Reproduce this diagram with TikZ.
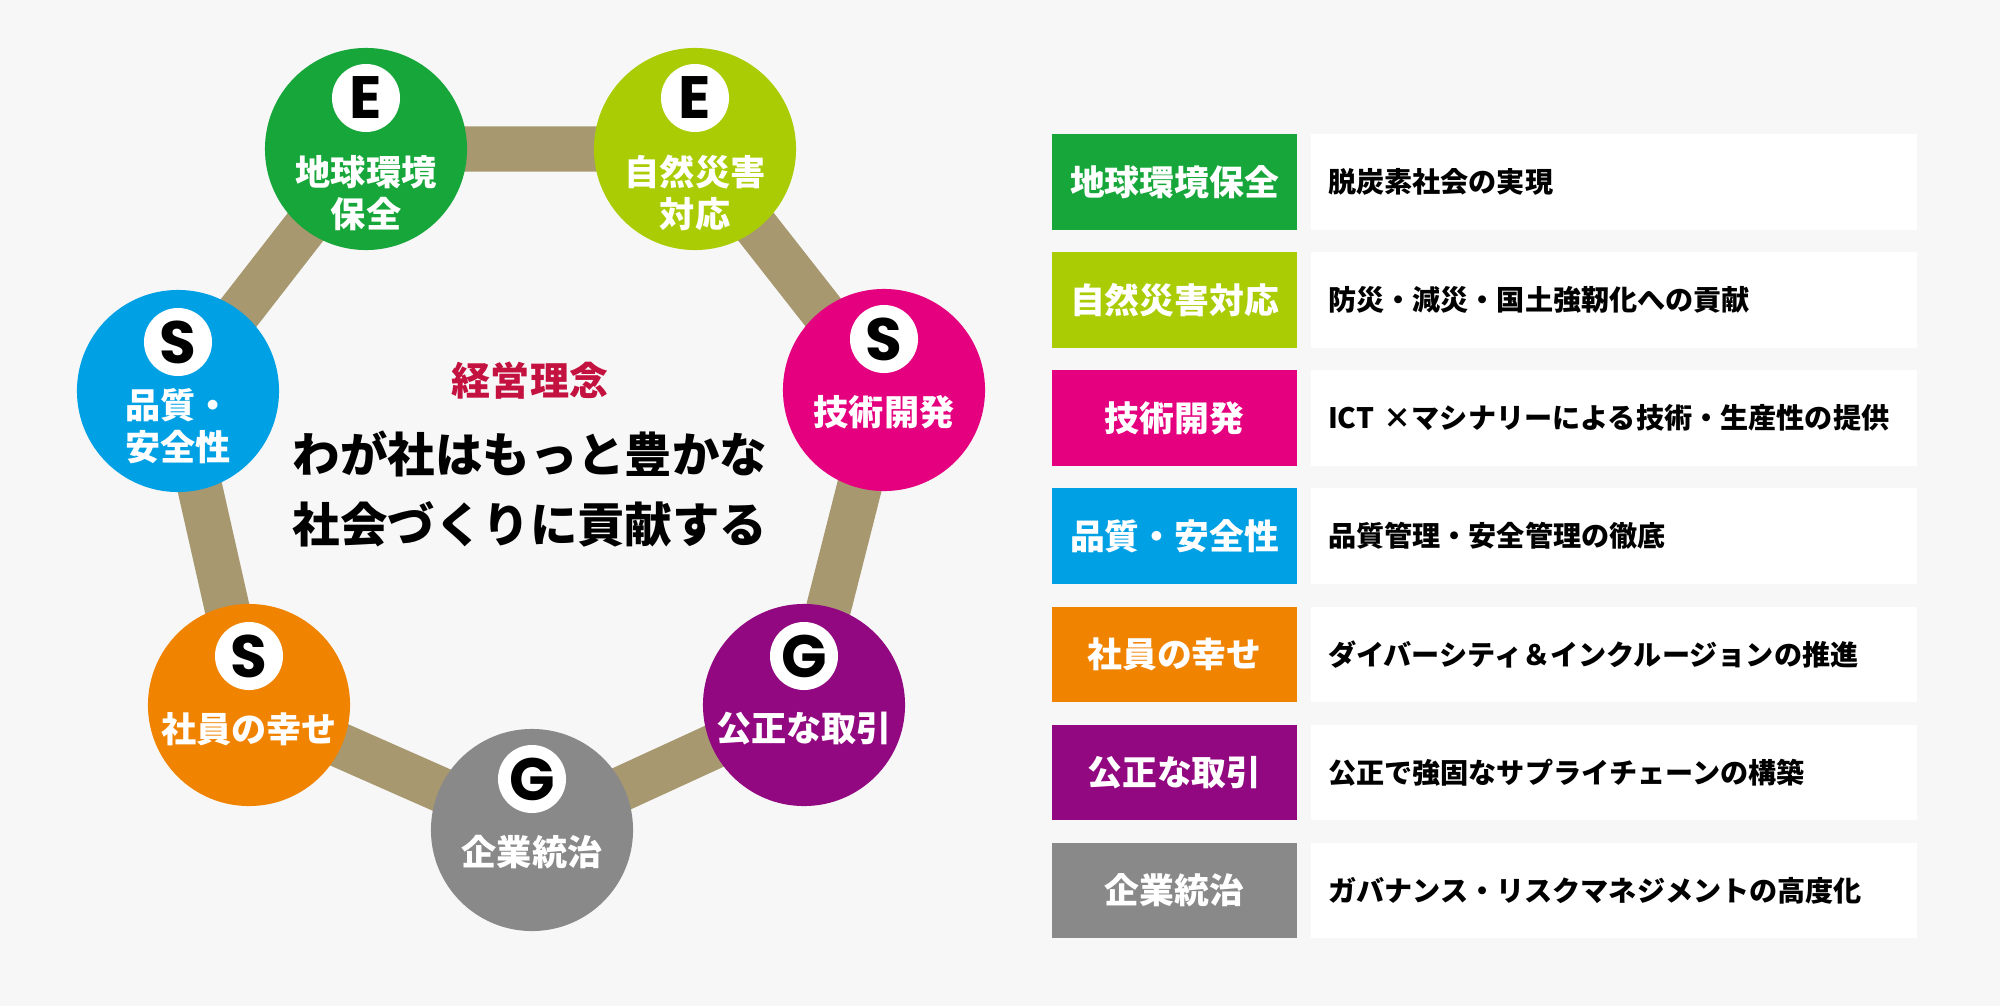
\documentclass[tikz,border=0pt]{standalone}
\usepackage{fontspec}
\setmainfont{Noto Sans CJK JP}
\newfontfamily\heavyfont{Noto Sans CJK JP Black}
\newfontfamily\badgefont{Poppins}
\usepackage{xcolor}
\usepackage{tikz}
\usetikzlibrary{positioning,calc,backgrounds}

\definecolor{bgGray}{RGB}{247,247,247}
\definecolor{barTan}{RGB}{168,152,112}
\definecolor{envGreen}{RGB}{22,166,58}
\definecolor{envLime}{RGB}{170,204,4}
\definecolor{socMagenta}{RGB}{228,0,127}
\definecolor{socBlue}{RGB}{0,160,228}
\definecolor{socOrange}{RGB}{240,131,0}
\definecolor{govPurple}{RGB}{145,8,128}
\definecolor{govGray}{RGB}{137,137,137}
\definecolor{mottoRed}{RGB}{196,18,64}

\begin{document}
\begin{tikzpicture}[x=0.01cm,y=-0.01cm,
  esg/.style={circle,minimum size=2.02cm,inner sep=0pt},
  badge/.style={circle,fill=white,minimum size=0.68cm,inner sep=0pt,
                font=\badgefont\bfseries\fontsize{17}{17}\selectfont},
  esgtext/.style={text=white,align=center,font=\heavyfont\fontsize{10}{12}\selectfont},
  ringbar/.style={line width=0.45cm,color=barTan},
  tagbox/.style={rectangle,minimum width=2.45cm,minimum height=0.955cm,inner sep=0pt,
              outer sep=0pt,text=white,font=\heavyfont\fontsize{9.9}{12}\selectfont},
  notebox/.style={rectangle,fill=white,minimum height=0.955cm,text width=5.72cm,
               inner xsep=0.17cm,inner ysep=0pt,outer sep=0pt,align=left,
               font=\bfseries\fontsize{8}{10}\selectfont}]
\useasboundingbox (0,0) rectangle (2000,1006);

% ring of ESG themes
\node[esg,fill=envGreen] (chikyu) at (366,149) {};
\node[esg,fill=envLime] (saigai) at (695,149) {};
\node[esg,fill=socMagenta] (gijutsu) at (884,390) {};
\node[esg,fill=govPurple] (torihiki) at (804,705) {};
\node[esg,fill=govGray] (tochi) at (532,830) {};
\node[esg,fill=socOrange] (shiawase) at (249,705) {};
\node[esg,fill=socBlue] (hinshitsu) at (178,391) {};

\begin{scope}[on background layer]
  \fill[bgGray] (0,0) rectangle (2000,1006);
  \draw[ringbar] (chikyu.center) -- (saigai.center) -- (gijutsu.center) -- (torihiki.center)
    -- (tochi.center) -- (shiawase.center) -- (hinshitsu.center) -- cycle;
\end{scope}

\node[badge] (chikyuE) at ($(chikyu)+(0,-51)$) {E};
\node[badge] (saigaiE) at ($(saigai)+(0,-51)$) {E};
\node[badge] (gijutsuS) at ($(gijutsu)+(0,-51)$) {S};
\node[badge] (torihikiG) at ($(torihiki)+(0,-49)$) {G};
\node[badge] (tochiG) at ($(tochi)+(0,-51)$) {G};
\node[badge] (shiawaseS) at ($(shiawase)+(0,-49)$) {S};
\node[badge] (hinshitsuS) at ($(hinshitsu)+(0,-49)$) {S};

\node[esgtext] (chikyuT) at ($(chikyu)+(0,44)$) {地球環境\\保全};
\node[esgtext] (saigaiT) at ($(saigai)+(0,44)$) {自然災害\\対応};
\node[esgtext] (gijutsuT) at ($(gijutsu)+(0,22)$) {技術開発};
\node[esgtext] (torihikiT) at ($(torihiki)+(0,24)$) {公正な取引};
\node[esgtext] (tochiT) at ($(tochi)+(0,22)$) {企業統治};
\node[esgtext] (shiawaseT) at ($(shiawase)+(0,24)$) {社員の幸せ};
\node[esgtext] (hinshitsuT) at ($(hinshitsu)+(0,35)$) {品質・\\安全性};

% philosophy in the middle
\node[text=mottoRed,font=\heavyfont\fontsize{11.1}{13}\selectfont] (motto) at (530,381) {経営理念};
\node[align=center,font=\heavyfont\fontsize{13.5}{19.9}\selectfont] (vision) at (530,489)
  {わが社はもっと豊かな\\社会づくりに貢献する};

% table on the right
\node[tagbox,fill=envGreen] (t1) at (1174.5,182) {地球環境保全};
\node[tagbox,fill=envLime,below=0.225cm of t1] (t2) {自然災害対応};
\node[tagbox,fill=socMagenta,below=0.225cm of t2] (t3) {技術開発};
\node[tagbox,fill=socBlue,below=0.225cm of t3] (t4) {品質・安全性};
\node[tagbox,fill=socOrange,below=0.225cm of t4] (t5) {社員の幸せ};
\node[tagbox,fill=govPurple,below=0.225cm of t5] (t6) {公正な取引};
\node[tagbox,fill=govGray,below=0.225cm of t6] (t7) {企業統治};

\node[notebox,right=0.14cm of t1] (n1) {脱炭素社会の実現};
\node[notebox,right=0.14cm of t2] (n2) {防災・減災・国土強靭化への貢献};
\node[notebox,right=0.14cm of t3] (n3) {ICT ×マシナリーによる技術・生産性の提供};
\node[notebox,right=0.14cm of t4] (n4) {品質管理・安全管理の徹底};
\node[notebox,right=0.14cm of t5] (n5) {ダイバーシティ＆インクルージョンの推進};
\node[notebox,right=0.14cm of t6] (n6) {公正で強固なサプライチェーンの構築};
\node[notebox,right=0.14cm of t7] (n7) {ガバナンス・リスクマネジメントの高度化};
\end{tikzpicture}
\end{document}
